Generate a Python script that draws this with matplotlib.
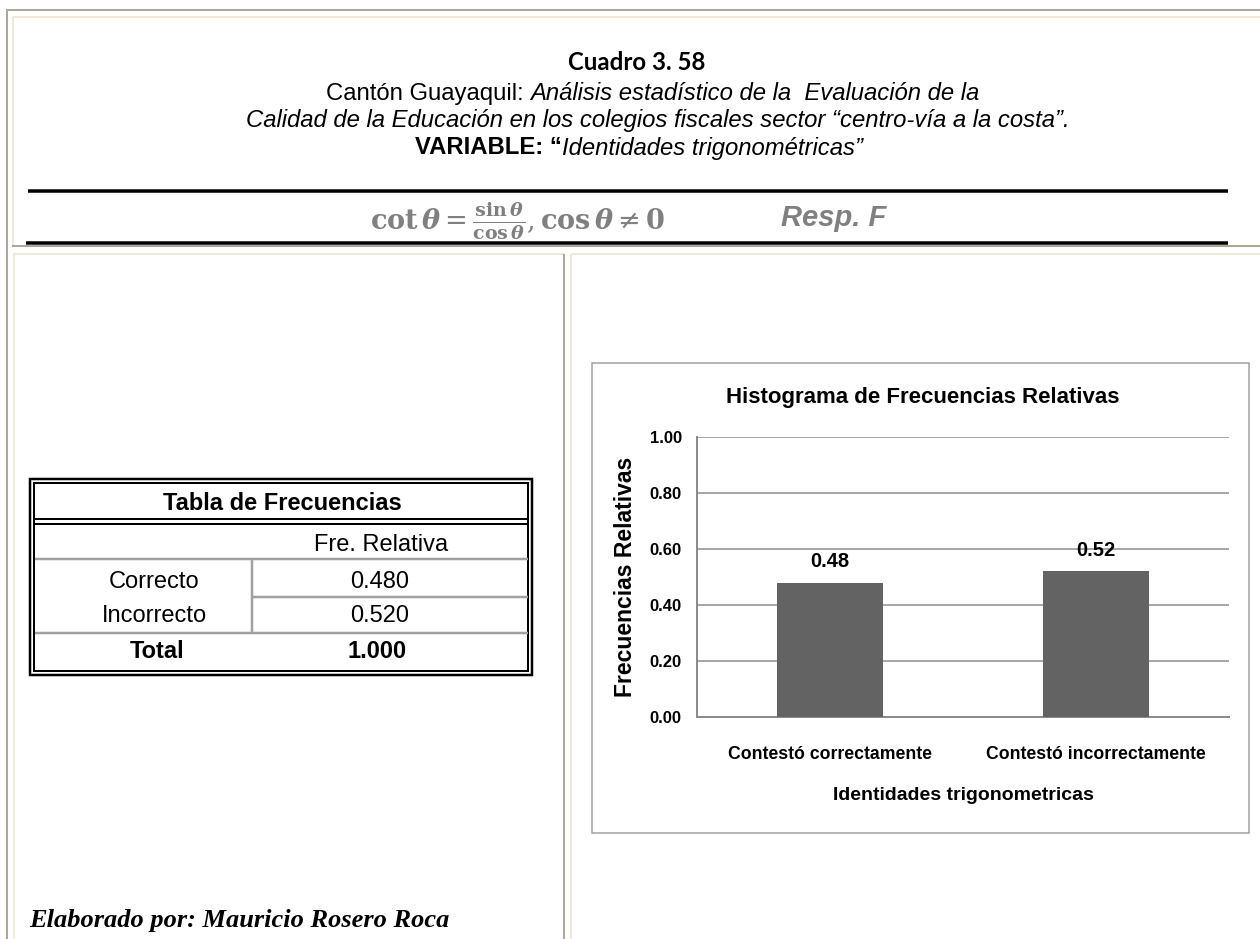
import matplotlib
matplotlib.use("Agg")
import matplotlib.pyplot as plt
from matplotlib.patches import Rectangle

# ---------------------------
# Data
# ---------------------------
categories = ["Contestó correctamente", "Contestó incorrectamente"]
rel_freq = [0.48, 0.52]
table_rows = ["Correcto", "Incorrecto"]
table_values = [0.480, 0.520]
y_ticks = [0.0, 0.2, 0.4, 0.6, 0.8, 1.0]

# ---------------------------
# Style
# ---------------------------
W, H = 1260, 939
NARROW = ["Liberation Sans Narrow", "Liberation Sans", "DejaVu Sans"]
SANS = ["Liberation Sans", "DejaVu Sans"]
FRAME_GRAY = "#aca899"
FRAME_BEIGE = "#ece9d8"
BAR_COLOR = "#636363"
GRID = "#8c8c8c"

plt.rcParams["mathtext.fontset"] = "dejavuserif"

fig = plt.figure(figsize=(W / 100, H / 100), dpi=100)
bg = fig.add_axes([0, 0, 1, 1])
bg.set_xlim(0, W)
bg.set_ylim(H, 0)
bg.axis("off")

def px(n):
    # pixel width -> points
    return n * 0.72

def hline(y, x0, x1, color, w):
    bg.plot([x0, x1], [y, y], color=color, lw=px(w), solid_capstyle="butt")

def vline(x, y0, y1, color, w):
    bg.plot([x, x], [y0, y1], color=color, lw=px(w), solid_capstyle="butt")

# ---------------------------
# Page frame (html table look)
# ---------------------------
hline(10, 6, W, FRAME_GRAY, 2)
vline(7, 9, H, FRAME_GRAY, 2)
hline(17, 13, W, FRAME_BEIGE, 2)
vline(13, 17, 246, FRAME_BEIGE, 2)
hline(246, 12, W, FRAME_GRAY, 2)
hline(254, 13, 564, FRAME_BEIGE, 2)
hline(254, 571, W, FRAME_BEIGE, 2)
vline(14, 254, H, FRAME_BEIGE, 2)
vline(564, 254, H, FRAME_GRAY, 2)
vline(571, 254, H, FRAME_BEIGE, 2)

# ---------------------------
# Heading
# ---------------------------
renderer = fig.canvas.get_renderer()

def run_width(s, st):
    a = bg.text(0, 0, s + "|", **st)
    b = bg.text(0, 0, "|", **st)
    w = a.get_window_extent(renderer).width - b.get_window_extent(renderer).width
    a.remove()
    b.remove()
    return w

def mixed_line(xc, y, runs):
    widths = [run_width(s, st) for s, st in runs]
    x = xc - sum(widths) / 2
    for (s, st), w in zip(runs, widths):
        bg.text(x, y, s, ha="left", va="center", **st)
        x += w

bg.text(637, 63, "Cuadro 3. 58", ha="center", va="center", fontsize=17.3,
        fontweight="bold", family=["Lato", "DejaVu Sans"])

reg = dict(fontsize=17.2, family=SANS)
ita = dict(fontsize=17.2, family=SANS, style="italic")
bold = dict(fontsize=17.2, family=SANS, fontweight="bold")
mixed_line(653, 94, [("Cantón Guayaquil: ", reg),
                     ("Análisis estadístico de la  Evaluación de la", ita)])
mixed_line(658, 121, [("Calidad de la Educación en los colegios fiscales sector “centro-vía a la costa”.", ita)])
mixed_line(639, 148, [("VARIABLE: “", bold), ("Identidades trigonométricas”", ita)])

hline(191, 28, 1228, "black", 3.5)
hline(243, 26, 1228, "black", 3.5)

formula = (r"$\mathbf{cot}\,\boldsymbol{\theta} = "
           r"\frac{\mathbf{sin}\,\boldsymbol{\theta}}{\mathbf{cos}\,\boldsymbol{\theta}},"
           r"\mathbf{cos}\,\boldsymbol{\theta} \neq \mathbf{0}$")
bg.text(518, 221, formula, ha="center", va="center", fontsize=19.5, color="#808080")
bg.text(834, 218, "Resp. F", ha="center", va="center", fontsize=21, color="#808080",
        fontweight="bold", style="italic", family=SANS)

# ---------------------------
# Frequency table
# ---------------------------
bg.add_patch(Rectangle((30, 479), 502, 196, fill=False, ec="black", lw=px(2.5)))
bg.add_patch(Rectangle((34, 483), 494, 188, fill=False, ec="black", lw=px(2)))
hline(519, 34, 528, "black", 2)
hline(524, 34, 528, "black", 2)
hline(559, 35, 528, "#a0a0a0", 2.5)
vline(252, 559, 633, "#a0a0a0", 2.5)
hline(597, 252, 528, "#a0a0a0", 2.5)
hline(633, 35, 528, "#a0a0a0", 2.5)

tab = dict(fontsize=17, family=SANS, ha="center", va="center")
bg.text(282, 504, "Tabla de Frecuencias", fontweight="bold", **tab)
bg.text(381, 545, "Fre. Relativa", **tab)
row_y = [582, 616]
for name, val, y in zip(table_rows, table_values, row_y):
    bg.text(154, y, name, **tab)
    bg.text(380, y, f"{val:.3f}", **tab)
bg.text(157, 651, "Total", fontweight="bold", **tab)
bg.text(377, 651, f"{sum(table_values):.3f}", fontweight="bold", **tab)

bg.text(29, 921, "Elaborado por: Mauricio Rosero Roca", ha="left", va="center",
        fontsize=19, fontweight="bold", style="italic",
        family=["Liberation Serif", "DejaVu Serif"])

# ---------------------------
# Chart
# ---------------------------
bg.add_patch(Rectangle((592, 363), 657, 470, fill=False, ec="#a0a0a0", lw=px(1.5)))
bg.text(923, 397, "Histograma de Frecuencias Relativas", ha="center", va="center",
        fontsize=16, fontweight="bold", family=NARROW)

ax = fig.add_axes([697 / W, 1 - 717 / H, 532 / W, 280 / H])
ax.patch.set_alpha(0)
bars = ax.bar(range(len(categories)), rel_freq, width=0.4, color=BAR_COLOR, zorder=3)
ax.set_xlim(-0.5, len(categories) - 0.5)
ax.set_ylim(0, 1)
ax.set_yticks(y_ticks)
ax.set_yticklabels([f"{t:.2f}" for t in y_ticks], fontsize=12, fontweight="bold", family=NARROW)
ax.set_xticks(range(len(categories)))
ax.set_xticklabels(categories, fontsize=12.7, fontweight="bold", family=NARROW)
ax.tick_params(axis="both", length=0)
ax.tick_params(axis="x", pad=21)
ax.tick_params(axis="y", pad=11)
ax.grid(axis="y", color=GRID, lw=px(1.5), zorder=0)
for side in ["top", "right"]:
    ax.spines[side].set_visible(False)
ax.spines["left"].set_color(GRID)
ax.spines["left"].set_linewidth(px(2))
ax.spines["bottom"].set_color(GRID)
ax.spines["bottom"].set_linewidth(px(2))
ax.bar_label(bars, fmt="%.2f", padding=8, fontsize=14.5, fontweight="bold", family=NARROW)
ax.set_ylabel("Frecuencias Relativas", fontsize=16.5, fontweight="bold", family=SANS, labelpad=9)
ax.set_xlabel("Identidades trigonometricas", fontsize=14, fontweight="bold", family=NARROW,
              labelpad=17)

fig.savefig("out.png", dpi=100)
